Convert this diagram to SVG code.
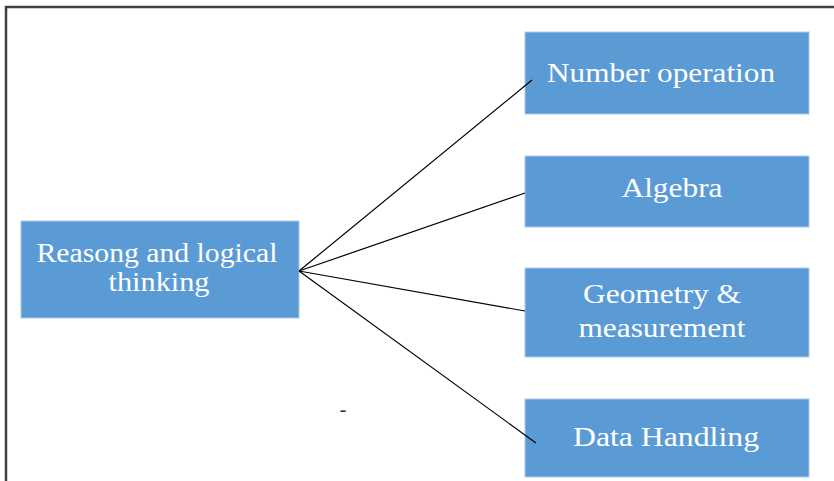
<svg xmlns="http://www.w3.org/2000/svg" width="834" height="481" viewBox="0 0 834 481">
  <style>
    .box { fill: #5B9BD5; stroke: #A9CBEA; stroke-width: 1; }
    .lbl { font-family: "Liberation Serif", "Times New Roman", serif; font-size: 28px; fill: #FFFFFF; text-anchor: middle; }
    .conn { stroke: #000000; stroke-width: 1.2; fill: none; }
    .frame { stroke: #404040; stroke-width: 2.5; fill: none; }
  </style>
  <rect x="0" y="0" width="834" height="481" fill="#FFFFFF"/>
  <path class="frame" d="M6,481 V7 H834"/>
  <g id="node-reasoning">
    <rect class="box" x="21" y="221" width="278" height="97"/>
    <text class="lbl" x="157" y="262" textLength="241" lengthAdjust="spacingAndGlyphs">Reasong and logical</text>
    <text class="lbl" x="159" y="291" textLength="101" lengthAdjust="spacingAndGlyphs">thinking</text>
  </g>
  <g id="node-number">
    <rect class="box" x="525" y="32" width="284" height="82"/>
    <text class="lbl" x="661" y="82" textLength="228" lengthAdjust="spacingAndGlyphs">Number operation</text>
  </g>
  <g id="node-algebra">
    <rect class="box" x="525" y="156" width="284" height="71"/>
    <text class="lbl" x="672" y="197" textLength="101" lengthAdjust="spacingAndGlyphs">Algebra</text>
  </g>
  <g id="node-geometry">
    <rect class="box" x="525" y="268" width="284" height="89"/>
    <text class="lbl" x="662" y="303" textLength="158" lengthAdjust="spacingAndGlyphs">Geometry &amp;</text>
    <text class="lbl" x="662" y="337" textLength="167" lengthAdjust="spacingAndGlyphs">measurement</text>
  </g>
  <g id="node-data">
    <rect class="box" x="525" y="399" width="284" height="78"/>
    <text class="lbl" x="666" y="446" textLength="186" lengthAdjust="spacingAndGlyphs">Data Handling</text>
  </g>
  <g id="connectors">
    <line class="conn" x1="299" y1="271" x2="532" y2="80"/>
    <line class="conn" x1="299" y1="271" x2="525" y2="193"/>
    <line class="conn" x1="299" y1="271" x2="525" y2="311"/>
    <line class="conn" x1="299" y1="271" x2="536" y2="443"/>
  </g>
  <text x="343" y="416" font-family="Liberation Serif, serif" font-size="20" fill="#333333" text-anchor="middle">-</text>
</svg>
